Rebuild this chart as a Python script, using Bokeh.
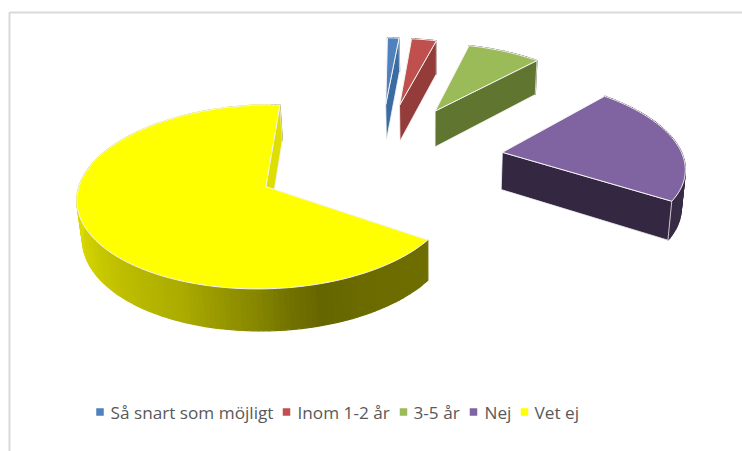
import numpy as np
from bokeh.plotting import figure
from bokeh.models import Range1d
from bokeh.embed import file_html
from bokeh.resources import INLINE
from bokeh.core.properties import value

categories = ["Så snart som möjligt", "Inom 1-2 år", "3-5 år", "Nej", "Vet ej"]
shares = [1.2, 2.6, 7.6, 22.2, 66.4]

top_colors = ["#4F81BD", "#C0504D", "#9BBB59", "#8064A2", "#FFFF00"]
cut_colors = ["#3A6BA1", "#943C3A", "#5F7530", "#342742", "#DEDE00"]
wall_base = [(79, 129, 189), (192, 80, 77), (155, 187, 89), (128, 100, 162), (255, 255, 0)]

# page-pixel layout of the perspective pie
APEX_X, APEX_Y = 270.0, 187.0
SCALE_X, SCALE_Y, SHEAR, PERSP = 190.0, 92.5, 7.0, 0.1135
CENTER_U, CENTER_V = 0.583, 0.32
EXPLODE, RADIUS, START_DEG = 0.682, 0.985, 2.5


def project(u, v):
    s = 1.0 / (1.0 + PERSP * v)
    return APEX_X + (SCALE_X * u + SHEAR * v) * s, APEX_Y - SCALE_Y * v * s


def drop(x, y):
    return x - (x - 430.0) * 0.016, y + 34.0 + (y - 60.0) * 0.035


def shade_color(base, f):
    return "#%02x%02x%02x" % tuple(int(round(c * f)) for c in base)


# wall brightness against rim angle (clockwise from the back)
SHADE_ANGLES = [0, 90, 125, 150, 163, 172, 180, 202, 245, 270, 360]
SHADE_VALUES = [0.45, 0.46, 0.43, 0.42, 0.40, 0.45, 0.52, 0.67, 0.82, 0.87, 0.87]

p = figure(width=742, height=451, x_range=Range1d(0, 742), y_range=Range1d(451, 0),
           x_axis_type=None, y_axis_type=None, tools="", toolbar_location=None,
           output_backend="svg", min_border=0, outline_line_color=None,
           background_fill_color="#ffffff", border_fill_color="#ffffff")
p.grid.visible = False

# frame of the pasted picture
p.line([9, 9, 742], [451, 12, 12], line_color="#D9D9D9", line_width=2)

total = float(sum(shares))
start = START_DEG
for i, share in enumerate(shares):
    sweep = share / total * 360.0
    end = start + sweep
    mid = np.radians((start + end) / 2.0)
    cu = CENTER_U + EXPLODE * np.sin(mid)
    cv = CENTER_V + EXPLODE * np.cos(mid)
    angles = np.linspace(start, end, max(int(sweep / 1.5), 2) + 1)
    rad = np.radians(angles)
    rx, ry = project(cu + RADIUS * np.sin(rad), cv + RADIUS * np.cos(rad))
    ax, ay = project(cu, cv)
    brx, bry = drop(rx, ry)
    bax, bay = drop(ax, ay)

    # outer wall
    xs, ys, cols = [], [], []
    for j in range(len(angles) - 1):
        xs.append([rx[j], rx[j + 1], brx[j + 1], brx[j]])
        ys.append([ry[j], ry[j + 1], bry[j + 1], bry[j]])
        f = float(np.interp((angles[j] + angles[j + 1]) / 2.0 % 360.0, SHADE_ANGLES, SHADE_VALUES))
        cols.append(shade_color(wall_base[i], f))
    p.patches(xs, ys, fill_color=cols, line_color=cols, line_width=1.3)

    # the visible cut face, then the lit top
    p.patch([ax, rx[-1], brx[-1], bax], [ay, ry[-1], bry[-1], bay], fill_color=cut_colors[i],
            line_color="#f2f2f2", line_width=0.8)
    p.patch([ax] + list(rx), [ay] + list(ry), fill_color=top_colors[i],
            line_color="#f4f4f4", line_width=1.0)
    start = end

# legend
legend_marker_x = [99.5, 286.0, 403.0, 473.0, 524.0]
legend_text_x = [110.0, 297.0, 413.0, 484.0, 534.0]
legend_y = 411.5
p.scatter(legend_marker_x, [legend_y] * 5, marker="square", size=7.5,
          fill_color=top_colors, line_color=None)
p.text(legend_text_x, [legend_y] * 5, text=categories, text_font=value("Open Sans"),
       text_font_size="17.2px", text_color="#595959", text_baseline="middle", text_align="left")

open("out.html", "w").write(file_html(p, INLINE))
